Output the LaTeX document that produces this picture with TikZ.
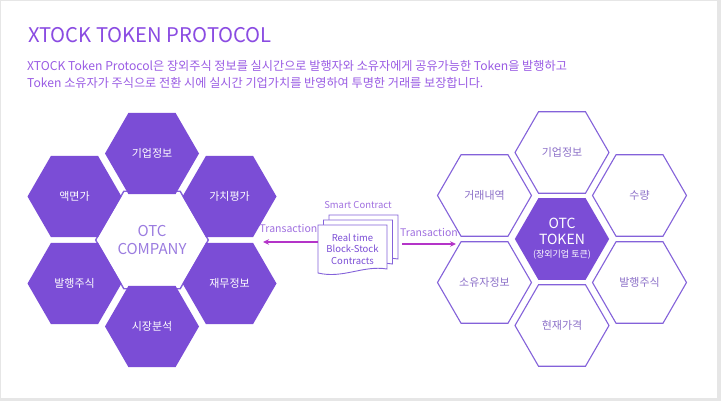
\documentclass[tikz,border=0pt]{standalone}
\usepackage{fontspec}
\setmainfont{Noto Sans CJK KR}
\usetikzlibrary{shapes.geometric,arrows.meta}
\definecolor{hexfill}{HTML}{7B4DD6}
\definecolor{hexline}{HTML}{8462DA}
\definecolor{hextext}{HTML}{8C70C8}
\definecolor{ctext}{HTML}{9B7CE0}
\definecolor{titlec}{HTML}{8A4BE2}
\definecolor{subc}{HTML}{9A5CE4}
\definecolor{arrc}{HTML}{B434C8}
\definecolor{labc}{HTML}{A070E0}
\definecolor{framec}{HTML}{E6E6E6}
\begin{document}
\begin{tikzpicture}[x=1pt,y=-1pt,
  hexbase/.style={regular polygon, regular polygon sides=6, minimum size=94pt,
    inner sep=0pt, outer sep=0pt, align=center, font=\fontsize{11}{13}\selectfont},
  hexfilled/.style={hexbase, fill=hexfill, text=white},
  hexopen/.style={hexbase, draw=hexline, line width=1.1pt, fill=white, text=hextext},
  hexcore/.style={hexbase, draw=hexline, line width=1.4pt, fill=white, text=ctext,
    font=\fontsize{15}{18}\selectfont},
  hextoken/.style={hexbase, fill=hexfill, text=white, font=\fontsize{14}{16}\selectfont},
  pagebox/.style={draw=hexline, line width=0.9pt, fill=white},
  doctext/.style={text=hexfill, align=center, inner sep=0pt, font=\fontsize{9.5}{11.5}\selectfont},
  translabel/.style={text=labc, inner sep=0pt, font=\fontsize{10.5}{12}\selectfont},
  arr/.style={draw=arrc, line width=1.2pt, -{Stealth[length=6pt,width=5.5pt]}}
]
\useasboundingbox (0,0) rectangle (721,401);
\fill[framec] (0,0) rectangle (721,401);
\fill[white] (1,1.5) rectangle (717,397.5);

% title and subtitle
\node[anchor=base west, inner sep=0pt, text=titlec, font=\fontsize{20.2}{24}\selectfont] (title) at (28,43) {XTOCK TOKEN PROTOCOL};
\node[anchor=base west, inner sep=0pt, text=subc, font=\fontsize{12.15}{15}\selectfont] (sub1) at (27,71) {XTOCK Token Protocol은 장외주식 정보를 실시간으로 발행자와 소유자에게 공유가능한 Token을 발행하고};
\node[anchor=base west, inner sep=0pt, text=subc, font=\fontsize{12.15}{15}\selectfont] (sub2) at (27,88) {Token 소유자가 주식으로 전환 시에 실시간 기업가치를 반영하여 투명한 거래를 보장합니다.};

% left cluster
\node[hexcore] (company) at (152,240) {OTC\\COMPANY};
\node[hexfilled] (l1) at (152,153.5) {기업정보};
\node[hexfilled] (l2) at (74.5,196.5) {액면가};
\node[hexfilled] (l3) at (229.5,196.5) {가치평가};
\node[hexfilled] (l4) at (74.5,283.5) {발행주식};
\node[hexfilled] (l5) at (229.5,283.5) {재무정보};
\node[hexfilled] (l6) at (152,326.5) {시장분석};

% right cluster
\node[hextoken] (token) at (562,239) {OTC\\TOKEN\\[-3pt]{\fontsize{9}{11}\selectfont(장외기업 토큰)}};
\node[hexopen] (r1) at (562,152.5) {기업정보};
\node[hexopen] (r2) at (484.5,195.5) {거래내역};
\node[hexopen] (r3) at (639.5,195.5) {수량};
\node[hexopen] (r4) at (484.5,282.5) {소유자정보};
\node[hexopen] (r5) at (639.5,282.5) {발행주식};
\node[hexopen] (r6) at (562,325.5) {현재가격};

% stacked contract pages
\foreach \ox/\oy in {329/215, 323.5/220, 318/225}{
  \draw[pagebox] (\ox,\oy) -- ++(69,0) -- ++(0,44)
    .. controls ++(-24,-4) and ++(25,6) .. ++(-69,4) -- cycle;
}
\node[doctext] (doc) at (352.5,249) {Real time\\Block-Stock\\Contracts};
\node[text=labc, inner sep=0pt, font=\fontsize{9.5}{11}\selectfont] (smart) at (358,205) {Smart Contract};

% transactions
\coordinate (docL) at (318,242);
\coordinate (tipL) at (263,242);
\coordinate (docR) at (402,244);
\coordinate (tipR) at (456,244);
\draw[arr] (docL) -- (tipL);
\draw[arr] (docR) -- (tipR);
\node[translabel] (tl) at (288.5,228) {Transaction};
\node[translabel] (tr) at (429,232) {Transaction};
\end{tikzpicture}
\end{document}
